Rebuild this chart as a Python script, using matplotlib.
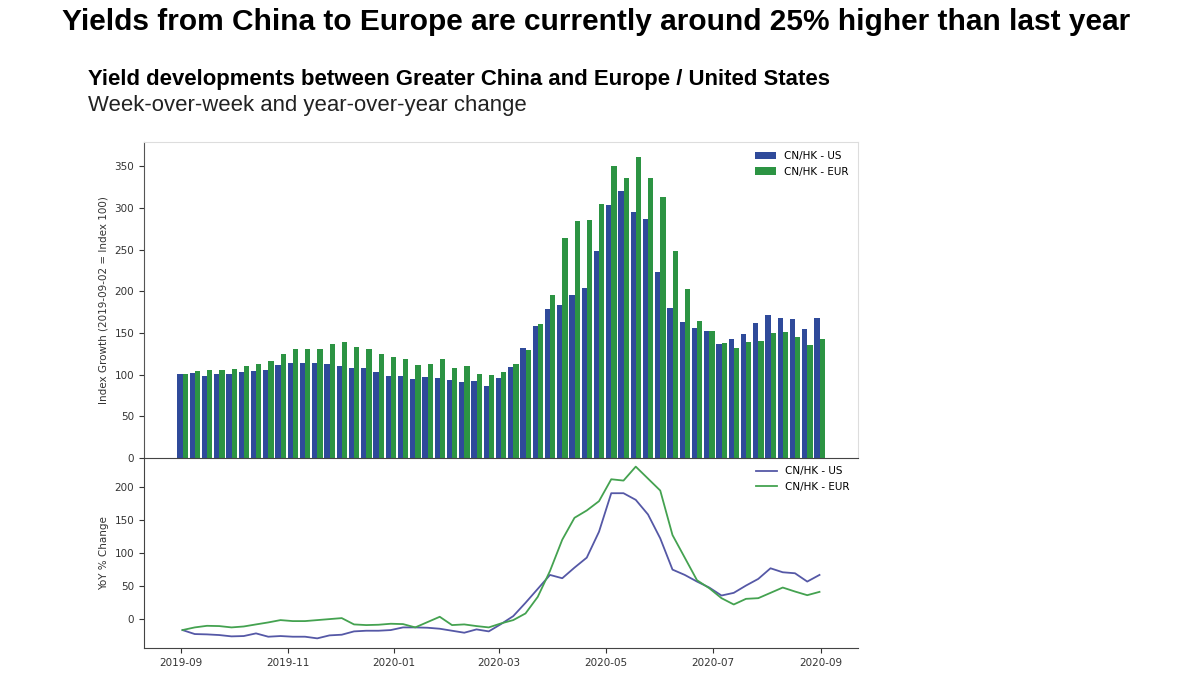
import matplotlib
matplotlib.use("Agg")
import matplotlib.pyplot as plt
import matplotlib.dates as mdates
import pandas as pd

# weekly observations, first week 2019-09-02
weeks = pd.date_range("2019-09-02", periods=53, freq="7D")

idx_us = [100.3, 102.5, 98.7, 101.3, 101.3, 102.7, 104, 105.3, 111.3, 114.3,
          114.3, 114.3, 112.7, 110.3, 107.9, 107.9, 103.5, 98.7, 98.7, 94.7,
          97.5, 95.9, 93.5, 90.7, 92.3, 86, 95.5, 108.7, 131.5, 158.3,
          178.7, 183, 195.4, 203.4, 247.8, 303.8, 320.6, 295.4, 287, 223.4,
          180.2, 163, 156.2, 152.7, 136.7, 142.3, 148.7, 161.5, 171.5, 167.5,
          166.3, 154.3, 167.5]
idx_eur = [100.3, 103.8, 105.5, 105.5, 106.7, 110.5, 113.3, 116.9, 124.7, 130.7,
           130.7, 130.7, 136.3, 138.7, 133.5, 130.7, 124.7, 120.7, 118.3, 111.5,
           113.1, 119.1, 107.5, 109.9, 100.3, 99.5, 102.7, 113.1, 129.1, 161,
           195.4, 264.2, 283.8, 285.8, 304.6, 350.1, 335.7, 361.3, 335.7, 312.6,
           247.8, 202.3, 164.3, 152.3, 138.3, 131.5, 139.5, 140.7, 149.5, 150.7,
           144.7, 135.5, 142.3]

yoy_us = [-16, -22, -22.5, -23.5, -25.5, -25, -21, -26, -25, -26,
          -26, -28.5, -24, -23, -18, -17, -17, -16, -12, -12,
          -12.5, -14, -17, -20, -15, -18, -7, 5, 25, 46,
          67, 62, 78, 93, 132, 190, 190, 180, 158, 122,
          75, 67, 57, 48, 36, 40, 51, 61, 77, 71,
          69.5, 57, 67]
yoy_eur = [-16, -12, -9.6, -10, -12, -10.6, -7.5, -4.5, -1, -2.5,
           -2.5, -1, 0.5, 2, -7.5, -8.5, -8, -6.5, -7, -12,
           -4, 4, -8.5, -7.5, -10, -12, -6, -1, 9, 34,
           73, 120, 153, 164, 178, 211, 209, 230, 212, 194,
           127, 93, 59, 47, 32, 22.5, 31, 32, 40, 48,
           42, 36.5, 41.5]

BLUE_BAR = "#2f4a9a"
GREEN_BAR = "#2c9443"
BLUE_LINE = "#5558a6"
GREEN_LINE = "#44a250"

plt.rcParams.update({"font.family": "DejaVu Sans", "font.size": 7.5})

fig = plt.figure(figsize=(12, 6.75), dpi=100)
fig.patch.set_facecolor("white")

fig.text(62 / 1200, 1 - 22 / 675,
         "Yields from China to Europe are currently around 25% higher than last year",
         family="Liberation Sans", fontsize=21.5, fontweight="bold", va="center", ha="left")
fig.text(88 / 1200, 1 - 80 / 675,
         "Yield developments between Greater China and Europe / United States",
         family="Liberation Sans", fontsize=15.9, fontweight="bold", va="center", ha="left")
fig.text(88 / 1200, 1 - 106 / 675, "Week-over-week and year-over-year change",
         family="Liberation Sans", fontsize=15.9, va="center", ha="left", color="#222222")

left, right = 144 / 1200, 858 / 1200
ax_top = fig.add_axes([left, 1 - 458 / 675, right - left, (458 - 142) / 675])
ax_bot = fig.add_axes([left, 1 - 648 / 675, right - left, (648 - 458) / 675], sharex=ax_top)

half = pd.Timedelta(days=1.5)
ax_top.bar(weeks - half, idx_us, width=3, color=BLUE_BAR, label="CN/HK - US")
ax_top.bar(weeks + half, idx_eur, width=3, color=GREEN_BAR, label="CN/HK - EUR")
ax_top.set_ylabel("Index Growth (2019-09-02 = Index 100)")
ax_top.set_ylim(0, 379)
ax_top.set_yticks(range(0, 351, 50))
ax_top.tick_params(axis="x", which="both", bottom=False, labelbottom=False)
ax_top.legend(loc="upper right", frameon=False, fontsize=7.5)
for side in ["top", "right"]:
    ax_top.spines[side].set_color("#dddddd")
ax_top.spines["left"].set_color("#555555")
ax_top.spines["bottom"].set_color("#444444")

ax_bot.plot(weeks, yoy_us, color=BLUE_LINE, lw=1.3, label="CN/HK - US")
ax_bot.plot(weeks, yoy_eur, color=GREEN_LINE, lw=1.3, label="CN/HK - EUR")
ax_bot.set_ylabel("YoY % Change")
ax_bot.set_ylim(-43, 243)
ax_bot.set_yticks(range(0, 201, 50))
ax_bot.legend(loc="upper right", frameon=False, fontsize=7.5, borderaxespad=0.4)
ax_bot.spines["top"].set_visible(False)
ax_bot.spines["right"].set_visible(False)
ax_bot.spines["left"].set_color("#444444")
ax_bot.spines["bottom"].set_color("#444444")
ax_bot.patch.set_alpha(0)

ax_bot.xaxis.set_major_locator(mdates.MonthLocator(bymonth=[1, 3, 5, 7, 9, 11]))
ax_bot.xaxis.set_major_formatter(mdates.DateFormatter("%Y-%m"))
ax_bot.set_xlim(pd.Timestamp("2019-08-11"), pd.Timestamp("2020-09-22"))

for ax in (ax_top, ax_bot):
    ax.tick_params(colors="#333333", length=3.5, width=0.8)
    ax.yaxis.label.set_color("#333333")

fig.savefig("out.png", dpi=100)
